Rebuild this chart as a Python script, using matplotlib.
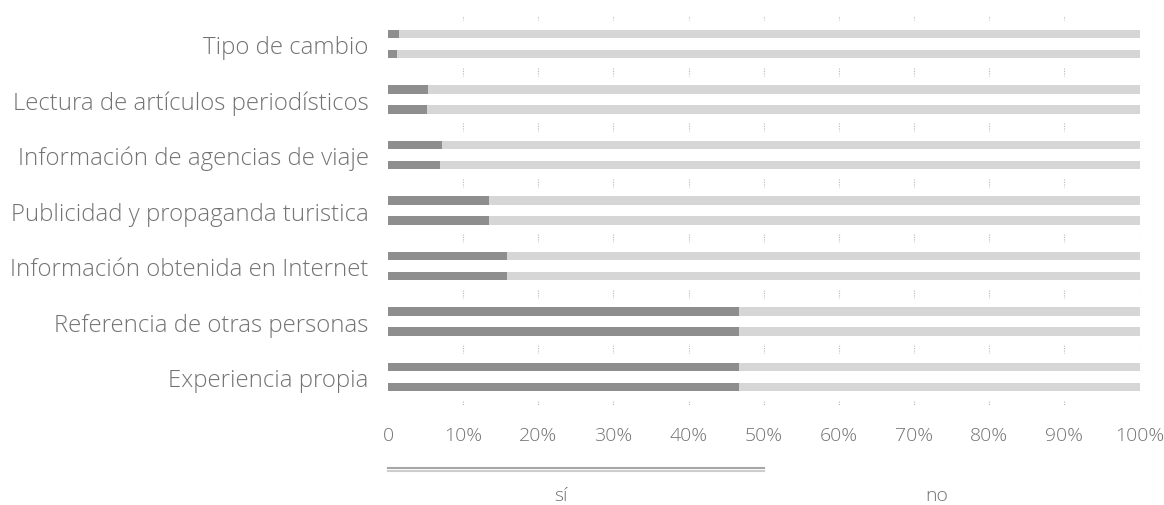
import numpy as np
import matplotlib
matplotlib.use("Agg")
import matplotlib.pyplot as plt
import matplotlib.transforms as mtransforms

plt.rcParams['font.family'] = ['Open Sans', 'DejaVu Sans']

categorias = ["Tipo de cambio",
              "Lectura de artículos periodísticos",
              "Información de agencias de viaje",
              "Publicidad y propaganda turistica",
              "Información obtenida en Internet",
              "Referencia de otras personas",
              "Experiencia propia"]

# two bars per category (upper / lower), share answering "sí"
si_a = [1.5, 5.3, 7.2, 13.5, 15.8, 46.7, 46.7]
si_b = [1.2, 5.2, 6.9, 13.5, 15.8, 46.7, 46.7]
no_a = [100 - v for v in si_a]
no_b = [100 - v for v in si_b]

ticks = [0, 10, 20, 30, 40, 50, 60, 70, 80, 90, 100]
tick_labels = ["0", "10%", "20%", "30%", "40%", "50%", "60%", "70%", "80%", "90%", "100%"]

col_si = "#8e8e8e"
col_no = "#d6d6d6"
col_txt = "#737373"

fig, ax = plt.subplots(figsize=(11.64, 5.06), dpi=100)
fig.subplots_adjust(left=0.3333, right=0.979, top=0.966, bottom=0.198)

y = np.arange(len(categorias))
off = 0.18
h = 0.15

ax.barh(y - off, si_a, height=h, color=col_si, linewidth=0)
ax.barh(y - off, no_a, left=si_a, height=h, color=col_no, linewidth=0)
ax.barh(y + off, si_b, height=h, color=col_si, linewidth=0)
ax.barh(y + off, no_b, left=si_b, height=h, color=col_no, linewidth=0)

# faint grid marks between category groups
for b in np.arange(-0.5, len(categorias), 1.0):
    ax.vlines(ticks[1:], b - 0.07, b + 0.07, colors="#b8b8b8", linewidth=0.8,
              linestyles=(0, (1, 1.2)))

ax.set_xlim(0, 100)
ax.set_ylim(len(categorias) - 0.5, -0.5)
ax.set_yticks(y)
ax.set_yticklabels(categorias, fontsize=17.3, color=col_txt, fontweight="light")
ax.set_xticks(ticks)
ax.set_xticklabels(tick_labels, fontsize=14, color=col_txt, fontweight="light")
ax.tick_params(axis="y", length=0, pad=14)
ax.tick_params(axis="x", length=0, pad=15)
for s in ax.spines.values():
    s.set_visible(False)

# legend strip under the axis
trans = mtransforms.blended_transform_factory(ax.transData, ax.transAxes)
ax.plot([0, 50], [-0.162, -0.162], transform=trans, clip_on=False, color="#a6a6a6", lw=1.5)
ax.plot([0, 50], [-0.170, -0.170], transform=trans, clip_on=False, color="#cdcdcd", lw=1.5)
ax.text(23, -0.232, "sí", transform=trans, ha="center", va="center", fontsize=14,
        color=col_txt, fontweight="light")
ax.text(73, -0.232, "no", transform=trans, ha="center", va="center", fontsize=14,
        color=col_txt, fontweight="light")

fig.savefig("out.png", dpi=100)
